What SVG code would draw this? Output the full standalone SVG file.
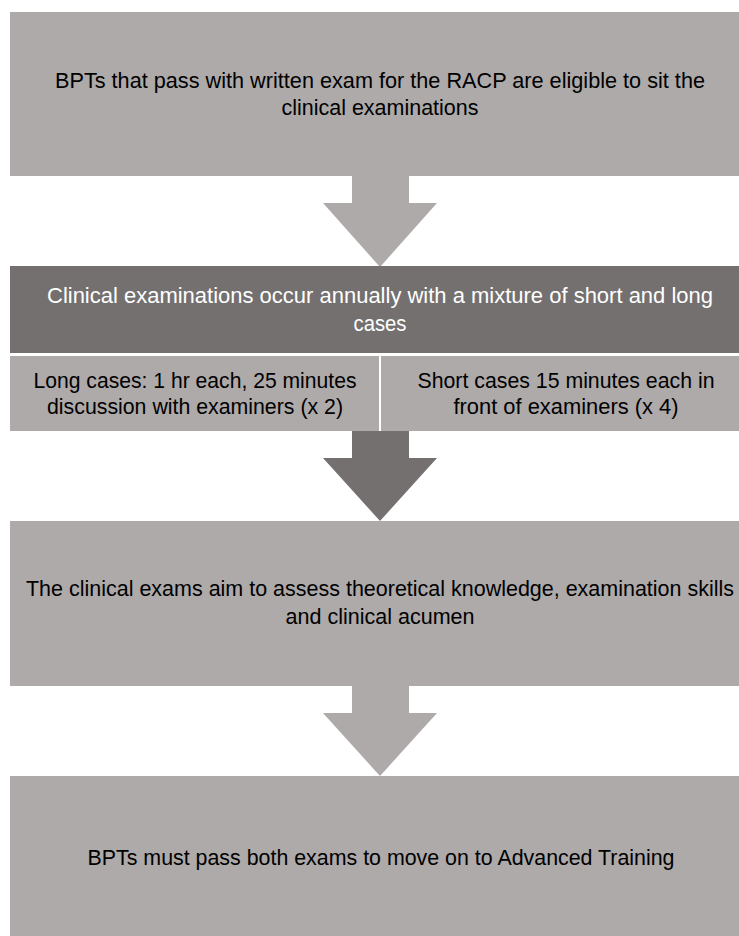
<svg xmlns="http://www.w3.org/2000/svg" width="739" height="936" viewBox="0 0 739 936">
<style>
.light{fill:#aeaaa9}
.dark{fill:#747070}
text{font-family:"Liberation Sans","Open Sans",sans-serif;font-size:21.5px;text-anchor:middle}
.b{fill:#000}
.w{fill:#fff}
</style>
<rect width="739" height="936" fill="#fff"/>
<g id="connectors">
<polygon class="light" points="352,176 409,176 409,203 437,203 380,267 323,203 352,203"/>
<polygon class="dark" points="352,431 409,431 409,458 437,458 380,521 323,458 352,458"/>
<polygon class="light" points="352,686 409,686 409,713 437,713 380,776 323,713 352,713"/>
</g>
<g id="node1">
<rect class="light" x="10" y="12" width="729" height="164"/>
<text class="b" x="380" y="88" textLength="650" lengthAdjust="spacingAndGlyphs">BPTs that pass with written exam for the RACP are eligible  to sit the</text>
<text class="b" x="380" y="115" textLength="197" lengthAdjust="spacingAndGlyphs">clinical examinations</text>
</g>
<g id="node2">
<rect class="dark" x="10" y="266" width="729" height="87"/>
<text class="w" x="380" y="303" textLength="666" lengthAdjust="spacingAndGlyphs">Clinical examinations occur annually with a mixture of short and long</text>
<text class="w" x="380" y="331" textLength="53" lengthAdjust="spacingAndGlyphs">cases</text>
</g>
<g id="node2a">
<rect class="light" x="10" y="356" width="369" height="75"/>
<text class="b" x="195" y="388" textLength="323" lengthAdjust="spacingAndGlyphs">Long cases: 1 hr each, 25 minutes</text>
<text class="b" x="195" y="414" textLength="296" lengthAdjust="spacingAndGlyphs">discussion with examiners (x 2)</text>
</g>
<g id="node2b">
<rect class="light" x="381" y="356" width="358" height="75"/>
<text class="b" x="566" y="388" textLength="297" lengthAdjust="spacingAndGlyphs">Short cases 15 minutes each in</text>
<text class="b" x="566" y="414" textLength="225" lengthAdjust="spacingAndGlyphs">front of examiners (x 4)</text>
</g>
<g id="node3">
<rect class="light" x="10" y="521" width="729" height="165"/>
<text class="b" x="380" y="596" textLength="708" lengthAdjust="spacingAndGlyphs">The clinical exams aim to assess theoretical knowledge, examination skills</text>
<text class="b" x="380" y="624" textLength="189" lengthAdjust="spacingAndGlyphs">and clinical acumen</text>
</g>
<g id="node4">
<rect class="light" x="10" y="776" width="729" height="160"/>
<text class="b" x="381" y="865" textLength="587" lengthAdjust="spacingAndGlyphs">BPTs must pass both exams to move on to Advanced Training</text>
</g>
</svg>
